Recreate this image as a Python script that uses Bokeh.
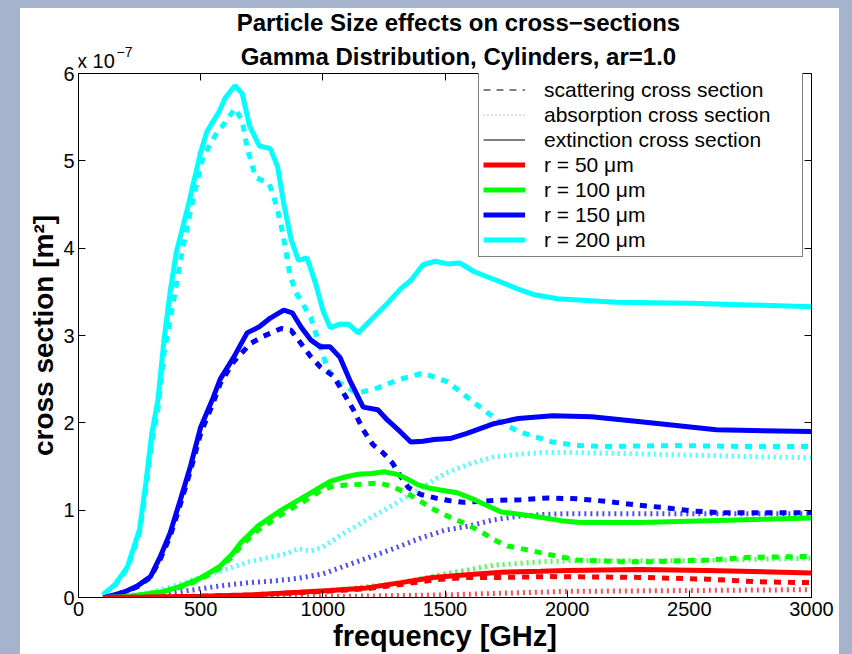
from bokeh.plotting import figure
from bokeh.models import (Range1d, FixedTicker, LinearAxis, Label, Legend, LegendItem)
from bokeh.layouts import column
from bokeh.embed import file_html
from bokeh.resources import INLINE

# ---------------- data (cross sections in units of 1e-7 m^2) ----------------
x_ticks = [0, 500, 1000, 1500, 2000, 2500, 3000]
y_ticks = [0, 1, 2, 3, 4, 5, 6]

# r = 200 um (cyan)
freq_ext200 = [100,150,200,250,275,300,325,350,375,400,450,500,525,550,575,600,640,670,700,740,
               785,815,840,870,900,935,970,1000,1030,1070,1105,1145,1205,1265,1320,1360,1410,1460,1510,1560,
               1620,1730,1800,1860,1960,2200,2500,2750,3000]
ext200 = [0.03,0.15,0.35,0.78,1.3,1.88,2.26,2.95,3.5,3.95,4.5,5.1,5.33,5.45,5.56,5.72,5.86,5.77,5.4,5.17,
          5.14,4.93,4.51,4.1,3.86,3.89,3.6,3.29,3.09,3.13,3.13,3.03,3.2,3.37,3.54,3.63,3.81,3.85,3.82,3.83,
          3.73,3.61,3.53,3.47,3.42,3.38,3.37,3.35,3.33]
freq_sca200 = [100,150,200,250,275,300,325,350,390,420,460,510,560,600,640,670,690,725,780,800,
               815,830,850,865,890,920,950,980,1020,1060,1140,1225,1305,1410,1510,1620,1715,1800,1940,2040,
               2165,2440,2710,3000]
sca200 = [0.03,0.14,0.33,0.74,1.22,1.78,2.15,2.8,3.41,3.9,4.45,5.05,5.29,5.44,5.6,5.46,5.15,4.81,4.74,4.58,
          4.43,4.25,3.95,3.7,3.49,3.35,3.21,2.95,2.61,2.47,2.34,2.4,2.49,2.57,2.47,2.23,2.03,1.9,1.78,1.74,
          1.73,1.74,1.73,1.73]
freq_abs200 = [100,200,300,400,500,600,700,800,850,900,950,1000,1100,1200,1300,1400,1500,1600,1700,1800,
               1900,2000,2200,2500,2800,3000]
abs200 = [0.0,0.02,0.06,0.14,0.23,0.32,0.41,0.47,0.5,0.56,0.53,0.58,0.76,0.92,1.08,1.25,1.42,1.53,1.61,1.64,
          1.66,1.66,1.65,1.63,1.61,1.6]

# r = 150 um (blue)
freq_ext150 = [110,185,240,295,335,375,417,458,500,550,580,635,690,740,785,840,875,910,950,990,
               1030,1070,1110,1165,1225,1265,1320,1360,1410,1455,1520,1590,1700,1800,1940,2100,2340,2610,3000]
ext150 = [0.0,0.06,0.13,0.24,0.47,0.74,1.12,1.5,1.95,2.28,2.5,2.75,3.03,3.1,3.2,3.29,3.26,3.1,2.95,2.87,
          2.87,2.75,2.49,2.18,2.15,2.03,1.89,1.78,1.79,1.81,1.82,1.88,1.99,2.05,2.08,2.07,2.0,1.92,1.9]
freq_sca150 = [110,185,240,295,335,375,417,458,500,550,580,635,705,755,830,870,910,950,990,1045,
               1085,1125,1165,1205,1245,1285,1320,1350,1400,1460,1515,1575,1635,1700,1810,1925,2040,2165,2280,2395,
               2515,2635,2750,3000]
sca150 = [0.0,0.06,0.12,0.23,0.44,0.7,1.07,1.45,1.88,2.22,2.45,2.7,2.91,2.99,3.08,3.06,2.91,2.76,2.64,2.53,
          2.34,2.15,1.92,1.75,1.66,1.54,1.38,1.26,1.18,1.14,1.11,1.09,1.1,1.11,1.12,1.14,1.13,1.1,1.06,1.03,
          0.99,0.97,0.97,0.97]
freq_abs150 = [100,200,300,400,500,600,700,800,900,1000,1100,1200,1300,1400,1500,1600,1700,1800,1900,2000,
               2200,2500,2800,3000]
abs150 = [0.0,0.005,0.02,0.06,0.1,0.14,0.17,0.19,0.22,0.27,0.37,0.47,0.57,0.68,0.77,0.82,0.89,0.93,0.95,0.96,
          0.96,0.96,0.96,0.96]

# r = 100 um (green)
freq_ext100 = [120,185,250,350,420,490,540,580,630,665,735,830,940,1030,1090,1140,1200,1250,1305,1350,
               1390,1440,1480,1550,1620,1730,1865,1975,2055,2300,2575,3000]
ext100 = [0.0,0.01,0.03,0.07,0.13,0.21,0.29,0.36,0.5,0.63,0.82,1.0,1.18,1.33,1.38,1.41,1.42,1.44,1.41,1.35,
          1.29,1.25,1.23,1.2,1.12,0.98,0.93,0.88,0.86,0.86,0.88,0.91]
freq_sca100 = [120,185,250,350,420,490,540,580,630,665,735,830,940,990,1045,1115,1230,1285,1340,1390,
               1440,1495,1595,1655,1700,1755,1865,1930,2040,2220,2340,2575,2750,3000]
sca100 = [0.0,0.01,0.03,0.07,0.12,0.2,0.27,0.34,0.47,0.59,0.77,0.95,1.13,1.22,1.28,1.29,1.31,1.27,1.2,1.12,
          1.03,0.95,0.83,0.74,0.66,0.59,0.53,0.49,0.43,0.41,0.41,0.43,0.46,0.47]
freq_abs100 = [100,300,500,700,900,1100,1300,1500,1700,1900,2000,2200,2500,2800,3000]
abs100 = [0.0,0.005,0.01,0.02,0.05,0.1,0.16,0.27,0.37,0.41,0.42,0.42,0.42,0.44,0.45]

# r = 50 um (red)
freq_ext50 = [100,300,500,700,900,1030,1180,1320,1450,1590,1730,1890,2000,2300,2575,3000]
ext50 = [0.0,0.005,0.015,0.03,0.06,0.08,0.11,0.17,0.23,0.26,0.29,0.3,0.31,0.32,0.31,0.28]
freq_sca50 = [100,300,500,700,900,1030,1180,1320,1450,1590,1730,1920,2300,2575,2780,3000]
sca50 = [0.0,0.005,0.015,0.03,0.055,0.075,0.1,0.15,0.2,0.23,0.23,0.24,0.23,0.21,0.18,0.17]
freq_abs50 = [100,500,1000,1500,2000,2500,3000]
abs50 = [0.0,0.0,0.01,0.03,0.07,0.08,0.09]

radius_labels = ["r = 50 \u03bcm", "r = 100 \u03bcm", "r = 150 \u03bcm", "r = 200 \u03bcm"]
colors = ["#ff0000", "#00ff00", "#0000ff", "#00ffff"]
style_labels = ["scattering cross section", "absorption cross section", "extinction cross section"]

title_lines = ["Particle Size effects on cross\u2212sections",
               "Gamma Distribution, Cylinders, ar=1.0"]
exponent_base = "x 10"
exponent_power = "\u22127"

FONT = "Liberation Sans"
BG = "#a6b3cc"
NAN = float("nan")

# ---------------- header strip (title + exponent) ----------------
TOP_H = 63
OVERLAP = 12
head = figure(width=819, height=TOP_H, output_backend="svg", toolbar_location=None,
              x_range=Range1d(0, 819), y_range=Range1d(0, TOP_H),
              x_axis_location=None, y_axis_location=None, min_border=0)
head.outline_line_color = None
head.xgrid.visible = False
head.ygrid.visible = False
head.background_fill_color = "white"
head.border_fill_color = "white"
head.add_layout(Label(x=424.5, y=49.4, text=title_lines[0], text_align="center",
                      text_baseline="alphabetic", text_font=FONT, text_font_style="bold",
                      text_font_size="24px", text_color="black"))
head.add_layout(Label(x=424.5, y=15.4, text=title_lines[1], text_align="center",
                      text_baseline="alphabetic", text_font=FONT, text_font_style="bold",
                      text_font_size="24px", text_color="black"))
head.add_layout(Label(x=19.5, y=10.8, text=exponent_base, text_align="center",
                      text_baseline="alphabetic", text_font=FONT, text_font_size="20px",
                      text_color="black"))
head.add_layout(Label(x=51.5, y=19.5, text=exponent_power, text_align="center",
                      text_baseline="alphabetic", text_font=FONT, text_font_size="14px",
                      text_color="black"))

# ---------------- main figure ----------------
p = figure(width=819, height=654 - 8 - TOP_H + OVERLAP, output_backend="svg", toolbar_location=None,
           x_range=Range1d(0, 3000), y_range=Range1d(0, 6),
           min_border_left=58, min_border_right=28, min_border_top=2 + OVERLAP, min_border_bottom=56)
p.margin = (-OVERLAP, 0, 0, 0)
p.background_fill_color = "white"
p.border_fill_alpha = 0
p.outline_line_color = "black"
p.outline_line_width = 1
p.xgrid.visible = False
p.ygrid.visible = False

def style_axis(ax, ticks, show_labels):
    ax.ticker = FixedTicker(ticks=ticks)
    ax.major_tick_in = 7
    ax.major_tick_out = 0
    ax.minor_tick_line_color = None
    ax.axis_line_color = "black"
    ax.major_tick_line_color = "black"
    ax.major_label_text_font = FONT
    ax.major_label_text_color = "black"
    if show_labels:
        ax.major_label_text_font_size = "20px"
        ax.major_label_standoff = 4
    else:
        ax.major_label_text_font_size = "0px"
        ax.major_label_text_alpha = 0
        ax.major_label_standoff = 0

style_axis(p.xaxis[0], x_ticks, True)
style_axis(p.yaxis[0], y_ticks, True)
p.xaxis.axis_label = "frequency [GHz]"
p.yaxis.axis_label = "cross section [m\u00b2]"
p.xaxis.axis_label_text_font_size = "29px"
p.yaxis.axis_label_text_font_size = "28px"
for ax in (p.xaxis[0], p.yaxis[0]):
    ax.axis_label_text_font = FONT
    ax.axis_label_text_font_style = "bold"
    ax.axis_label_text_color = "black"
    ax.axis_label_standoff = 1

top_ax = LinearAxis()
right_ax = LinearAxis()
style_axis(top_ax, x_ticks, False)
style_axis(right_ax, y_ticks, False)
p.add_layout(top_ax, "above")
p.add_layout(right_ax, "right")

# ---------------- curves ----------------
series = [
    (colors[3], freq_ext200, ext200, freq_sca200, sca200, freq_abs200, abs200),
    (colors[2], freq_ext150, ext150, freq_sca150, sca150, freq_abs150, abs150),
    (colors[1], freq_ext100, ext100, freq_sca100, sca100, freq_abs100, abs100),
    (colors[0], freq_ext50, ext50, freq_sca50, sca50, freq_abs50, abs50),
]
ext_renderers = {}
for c, fe, ve, fs, vs, fa, va in series:
    p.line(fa, va, line_color=c, line_width=5, line_dash="2 4", line_alpha=0.7)
    p.line(fs, vs, line_color=c, line_width=5, line_dash="7 7")
    ext_renderers[c] = p.line(fe, ve, line_color=c, line_width=5)

# ---------------- legend ----------------
leg_sca = p.line([NAN], [NAN], line_color="black", line_width=1, line_dash="7 6")
leg_abs = p.line([NAN], [NAN], line_color="#777777", line_width=1, line_dash="1 3")
leg_ext = p.line([NAN], [NAN], line_color="black", line_width=1)

items = [LegendItem(label=style_labels[0], renderers=[leg_sca]),
         LegendItem(label=style_labels[1], renderers=[leg_abs]),
         LegendItem(label=style_labels[2], renderers=[leg_ext])]
items += [LegendItem(label=lab, renderers=[ext_renderers[c]]) for lab, c in zip(radius_labels, colors)]

legend = Legend(items=items, location=(400, 340))
legend.padding = 4
legend.spacing = 0
legend.margin = 0
legend.label_height = 25
legend.glyph_height = 25
legend.glyph_width = 42
legend.label_standoff = 19
legend.label_width = 254
legend.label_text_font = FONT
legend.label_text_font_size = "21px"
legend.label_text_color = "black"
legend.border_line_color = "black"
legend.border_line_width = 1
legend.background_fill_color = "white"
legend.background_fill_alpha = 1
p.add_layout(legend, "center")

inner = column(head, p, styles={"background-color": "white"})
inner.margin = (8, 13, 0, 20)
lay = column(inner, width=852, height=654, styles={"background-color": BG})

with open("out.html", "w") as f:
    f.write(file_html(lay, INLINE))
